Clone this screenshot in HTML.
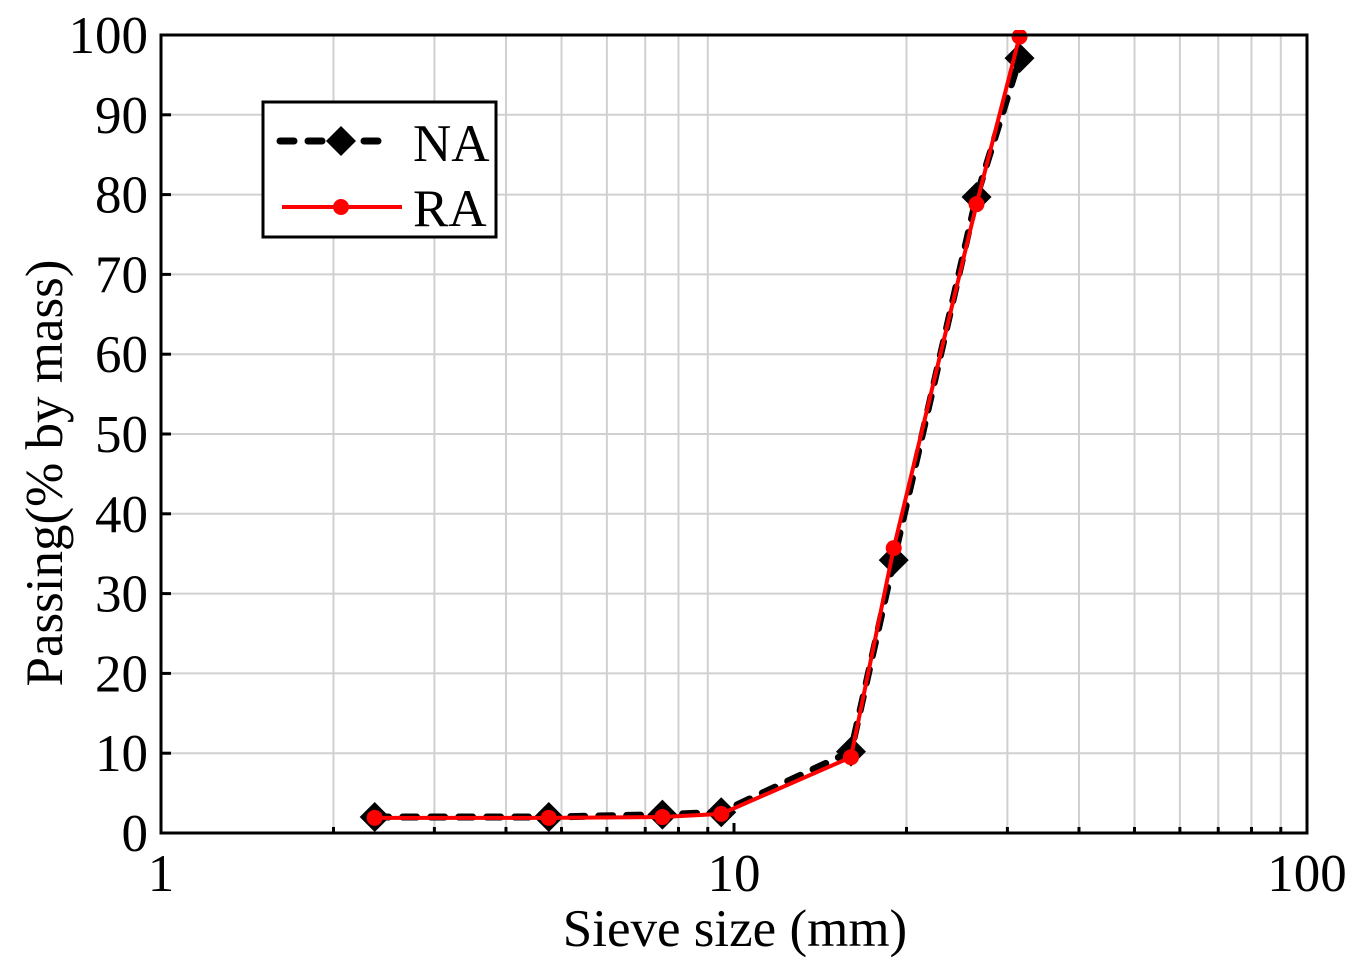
<!DOCTYPE html>
<html><head><meta charset="utf-8"><style>
html,body{margin:0;padding:0;background:#fff}
svg{display:block}
text{font-family:"Liberation Serif",serif;fill:#000}
</style></head><body>
<svg id="chart" width="1357" height="969" viewBox="0 0 1357 969">
<defs><clipPath id="pc"><rect x="161" y="30" width="1146" height="804"/></clipPath></defs>
<g id="grid"></g>
<g id="series" clip-path="url(#pc)"></g>
<rect x="161" y="35" width="1146" height="798" fill="none" stroke="#000" stroke-width="3"/>
<g id="ticks"></g>
<text x="735" y="946" font-size="53" text-anchor="middle">Sieve size (mm)</text>
<text transform="translate(62,473) rotate(-90)" font-size="53" text-anchor="middle">Passing(% by mass)</text>
<g>
<rect x="263" y="102" width="233" height="135" fill="#fff" stroke="#000" stroke-width="3"/>
<g>
<line x1="280" y1="141" x2="386" y2="141" stroke="#000" stroke-width="7" stroke-dasharray="14,14" stroke-linecap="round"/>
<polygon points="341,126 356,141 341,156 326,141" fill="#000"/>
<text x="413" y="161" font-size="53">NA</text></g>
<g>
<line x1="282" y1="207" x2="402" y2="207" stroke="#f00" stroke-width="4"/>
<circle cx="341" cy="207" r="8" fill="#f00"/>
<text x="413" y="226" font-size="53">RA</text></g>
</g>
</svg>
<script>
const sizes = [2.36, 4.75, 7.5, 9.5, 16, 19, 26.5, 31.5];
const naValues = [2.0, 2.0, 2.3, 2.6, 10.2, 34.2, 79.7, 97.1];
const raValues = [1.9, 1.9, 2.0, 2.4, 9.5, 35.7, 78.8, 99.8];
const yTicks = [0,10,20,30,40,50,60,70,80,90,100];
const xTickLabels = [1,10,100];
const X0=161,X1=1307,Y0=833,Y1=35;
function xs(v){return X0+(Math.log10(v)-0)/2*(X1-X0);}
function ys(v){return Y0-(v/100)*(Y0-Y1);}
const NS='http://www.w3.org/2000/svg';
function mk(t,a,p){const e=document.createElementNS(NS,t);for(const k in a)e.setAttribute(k,a[k]);p.appendChild(e);return e;}
const grid=document.getElementById('grid'),ticks=document.getElementById('ticks'),ser=document.getElementById('series');
for(const t of yTicks){
  const y=ys(t);
  if(t>0&&t<100){const g=mk('line',{x1:X0,x2:X1,y1:y,y2:y,stroke:'#d0d0d0','stroke-width':2},grid);
  
  }
  mk('line',{x1:X0,x2:X0+10,y1:y,y2:y,stroke:'#000','stroke-width':3},ticks);
  const tx=mk('text',{x:148,y:y+18,'font-size':53,'text-anchor':'end'},ticks);tx.textContent=t;
  
  
}
for(let d=0;d<2;d++)for(let m=1;m<=9;m++){
  const v=Math.pow(10,d)*m;const x=xs(v);
  if(m>1){const g=mk('line',{x1:x,x2:x,y1:Y1,y2:Y0,stroke:'#d0d0d0','stroke-width':2},grid);
  
  }
  mk('line',{x1:x,x2:x,y1:Y0,y2:Y0-(m===1?10:6),stroke:'#000','stroke-width':3},ticks);
}
for(const t of xTickLabels){
  const tx=mk('text',{x:xs(t),y:891,'font-size':53,'text-anchor':'middle'},ticks);tx.textContent=t;
  
  
}
const naPts=sizes.map((s,i)=>xs(s)+','+ys(naValues[i])).join(' ');
const naLine=mk('polyline',{points:naPts,fill:'none',stroke:'#000','stroke-width':7,'stroke-dasharray':'14,14','stroke-linecap':'round'},ser);


sizes.forEach((s,i)=>{const x=xs(s),y=ys(naValues[i]);
  const p=mk('polygon',{points:`${x},${y-15} ${x+15},${y} ${x},${y+15} ${x-15},${y}`,fill:'#000'},ser);
  
  });
const raPts=sizes.map((s,i)=>xs(s)+','+ys(raValues[i])).join(' ');
const raLine=mk('polyline',{points:raPts,fill:'none',stroke:'#f00','stroke-width':4},ser);


sizes.forEach((s,i)=>{const c=mk('circle',{cx:xs(s),cy:ys(raValues[i]),r:8,fill:'#f00'},ser);
  
  });
</script>
</body></html>
